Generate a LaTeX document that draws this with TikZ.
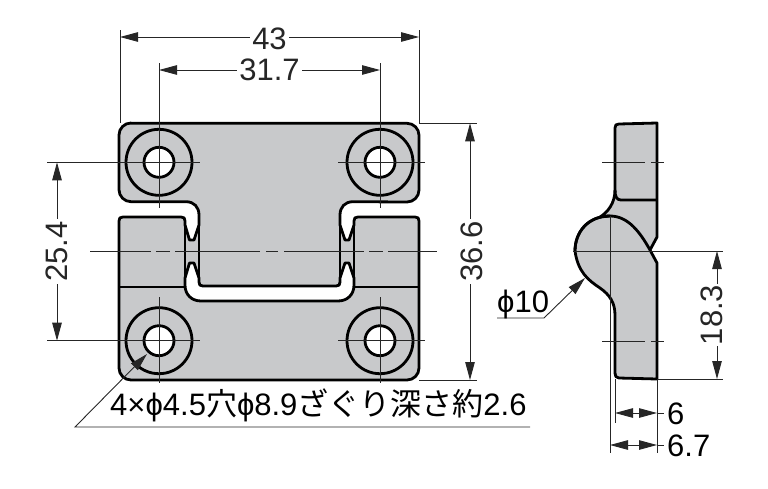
\documentclass[tikz,border=0pt]{standalone}
\usepackage{fontspec}
\setmainfont{Liberation Sans}
\newfontfamily\jpfont{Noto Sans CJK JP}
\usetikzlibrary{arrows.meta}
\definecolor{partgray}{HTML}{C8C9CB}
\tikzset{
	outline/.style={line width=2.8pt, line join=round},
	thinline/.style={line width=0.9pt, black!85},
	dimline/.style={thinline, {Triangle[length=18pt,width=9.5pt]}-{Triangle[length=18pt,width=9.5pt]}},
	leader/.style={thinline, -{Triangle[length=18pt,width=9.5pt]}},
	dimlabel/.style={fill=white, inner sep=2pt, font=\fontsize{31}{31}\selectfont}
}
\begin{document}
\begin{tikzpicture}[x=1pt,y=-1pt]
	\useasboundingbox (0,0) rectangle (768,488);
	
	% front view
	\draw[outline, fill=partgray] (131,123.3) -- (407,123.3) arc (-90:0:12) -- (419,190) arc (0:90:12) -- (353,201.7)
		.. controls (345,201.7) and (340,207) .. (340,215) -- (340,225) -- (345,240) -- (349,240) -- (354,225) -- (354,221)
		.. controls (354,218) and (355,217) .. (358,217) -- (415,217) .. controls (418,217) and (419,218) .. (419,221)
		-- (419,368) arc (0:90:12) -- (131,380) arc (90:180:12) -- (119,221)
		.. controls (119,218) and (120,217) .. (123,217) -- (181,217) .. controls (184,217) and (185,218) .. (185,221)
		-- (185,225) -- (189.5,240) -- (194,240) -- (199,225) -- (199,215)
		.. controls (199,207) and (194,201.7) .. (186,201.7) -- (131,201.7) arc (90:180:12) -- (119,135) arc (180:270:12) -- cycle;
	\draw[outline, fill=white] (189.5,263) -- (194,263) -- (199,278) -- (199,282) .. controls (199,285) and (200,286) .. (203,286)
		-- (336,286) .. controls (339,286) and (340,285) .. (340,282) -- (340,278) -- (345,263) -- (349,263) -- (354,278) -- (354,285)
		.. controls (354,295) and (347,301) .. (338,301) -- (201,301) .. controls (192,301) and (185,295) .. (185,285) -- (185,278) -- cycle;
	\draw[outline] (185,225) -- (185,278) (199,225) -- (199,278) (340,225) -- (340,278) (354,225) -- (354,278);
	\draw[outline] (119,287) -- (185,287) (354,287) -- (419,287);
	\foreach \hx/\hy in {159/162.3, 380/162.3, 159/340.7, 380/340.7}{
		\draw[outline] (\hx,\hy) circle (33);
		\draw[outline, fill=white] (\hx,\hy) circle (15);
	}
	
	% centre lines
	\draw[thinline] (47,162.3) -- (200,162.3) (338,162.3) -- (425,162.3);
	\draw[thinline] (47,340.7) -- (200,340.7) (338,340.7) -- (425,340.7);
	\draw[thinline] (159,63) -- (159,208) (380,63) -- (380,208);
	\draw[thinline] (159,297) -- (159,383) (380,297) -- (380,383);
	\draw[thinline] (90,251) -- (151,251) (156,251) -- (170,251) (175,251) -- (260,251) (266,251) -- (278,251) (284,251) -- (364,251) (369,251) -- (383,251) (388,251) -- (437,251);
	
	% dimensions of the front view
	\draw[thinline] (120,30) -- (120,123) (419,30) -- (419,123);
	\draw[thinline] (419,123.3) -- (477,123.3) (419,380) -- (477,380);
	\draw[dimline] (120,37) -- node[dimlabel, yshift=-2pt] (widthA) {43} (419,37);
	\draw[dimline] (159,70) -- node[dimlabel] (widthB) {31.7} (380,70);
	\draw[dimline] (57,162.3) -- node[dimlabel, rotate=90] (heightA) {25.4} (57,340.7);
	\draw[dimline] (470,123.3) -- node[dimlabel, rotate=90, yshift=-2pt] (heightB) {36.6} (470,380);
	
	\coordinate (holetip) at (147,354);
	\draw[leader] (530,427) -- (75,427) -- (holetip);
	\node[anchor=base west, inner sep=0pt, font=\fontsize{31}{31}\selectfont] (holetext) at (110,415) {4×ϕ4.5{\jpfont 穴}ϕ8.9{\jpfont ざぐり深さ約}2.6};
	
	% side view
	\draw[outline, fill=partgray] (619,124) -- (657,123) -- (657,237) -- (650,250) -- (657,263) -- (657,379) -- (619,378)
		.. controls (616,378) and (615,376) .. (615,373) -- (615,315) .. controls (615,303) and (610,295) .. (600,288)
		.. controls (588,280) and (578,272) .. (575,251) .. controls (575,232) and (588,216) .. (610,216)
		.. controls (610,216) and (610,216) .. (600,217) .. controls (608,212) and (615,203) .. (615,190) -- (615,128)
		.. controls (615,125) and (616,124) .. (619,124) -- cycle;
	\draw[outline] (575,251) .. controls (575,232) and (588,216) .. (610,216)
		.. controls (628,216) and (640,232) .. (650,250);
	\draw[outline] (615,190) .. controls (615,197) and (617,200) .. (621,200) -- (657,200);
	
	\draw[thinline] (602,162.3) -- (645,162.3) (651,162.3) -- (664,162.3);
	\draw[thinline] (602,341) -- (645,341) (651,341) -- (664,341);
	\draw[thinline] (573,251) -- (723,251);
	\draw[thinline] (610,216) -- (610,453);
	
	% dimensions of the side view
	\draw[thinline] (615,379) -- (615,423) (657,379) -- (657,453) (657,379) -- (723,379);
	\draw[dimline] (717,251) -- node[dimlabel, rotate=90, inner sep=1pt, yshift=5pt] (heightC) {18.3} (717,379);
	\draw[dimline] (615,413) -- (657,413);
	\draw[thinline] (657,413) -- (664,413);
	\node[dimlabel, anchor=west] (depthA) at (665,414) {6};
	\draw[dimline] (610,445) -- (657,445);
	\draw[thinline] (657,445) -- (664,445);
	\node[dimlabel, anchor=west] (depthB) at (665,446) {6.7};
	
	\coordinate (headtip) at (585,278);
	\draw[leader] (497,318) -- (544,318) -- (headtip);
	\node[anchor=base west, inner sep=0pt, font=\fontsize{31}{31}\selectfont] (headtext) at (497,312) {ϕ10};
\end{tikzpicture}
\end{document}
